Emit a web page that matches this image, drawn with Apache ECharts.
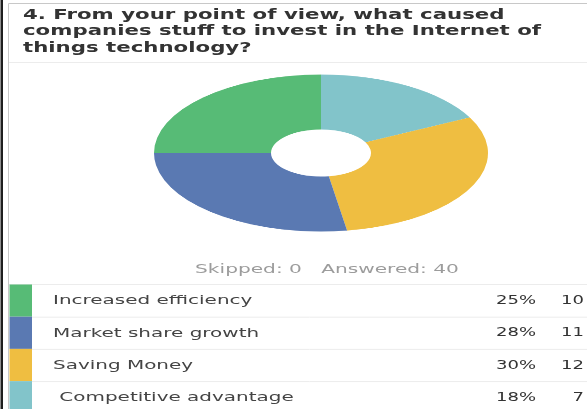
<!DOCTYPE html>
<html>
<head>
<meta charset="utf-8">
<script src="https://cdn.jsdelivr.net/npm/echarts@6/dist/echarts.min.js"></script>
<style>
  html, body { margin: 0; padding: 0; background: #fff; }
  #wrap { position: relative; width: 587px; height: 409px; overflow: hidden; background: #fff; }
  #main { position: absolute; left: 0; top: 0; width: 587px; height: 409px; }
  /* the donut is drawn round and flattened into an ellipse */
  #pie { position: absolute; left: 151px; top: -17px; width: 340px; height: 340px;
         transform: scaleY(0.47); transform-origin: 50% 50%; }
</style>
</head>
<body>
<div id="wrap">
  <div id="main"></div>
  <div id="pie"></div>
</div>
<script>
// Survey question and its answers
const questionLines = [
  '4. From your point of view, what caused',
  'companies stuff to invest in the Internet of',
  'things technology?'
];
const answers = ['Increased efficiency', 'Market share growth', 'Saving Money', ' Competitive advantage'];
const counts = [10, 11, 12, 7];
const percents = ['25%', '28%', '30%', '18%'];
const colors = ['#57bb76', '#5a79b2', '#efbe41', '#82c4ca'];
const skipped = 0;
const answered = 40;

// Donut: slices run clockwise from 12 o'clock, last answer first
const pieOrder = [3, 2, 1, 0];
const pieChart = echarts.init(document.getElementById('pie'), null, { renderer: 'canvas' });
pieChart.setOption({
  animation: false,
  series: [{
    type: 'pie',
    center: ['50%', '50%'],
    radius: [50, 167],
    startAngle: 90,
    clockwise: true,
    label: { show: false },
    labelLine: { show: false },
    emphasis: { disabled: true },
    itemStyle: { borderWidth: 0 },
    data: pieOrder.map(i => ({ name: answers[i], value: counts[i], itemStyle: { color: colors[i] } }))
  }]
});

// Page frame, heading, totals line and answer table (text is set wide)
const rowTop = 284.5, rowH = 32.2;
const g = [];
function txt(x, y, text, font, fill, align, wide) {
  g.push({ type: 'text', x: x, y: y, scaleX: wide || 1.6, style: {
    text: text, font: font, fill: fill, textAlign: align || 'left', verticalAlign: 'middle' } });
}
g.push({ type: 'rect', shape: { x: 0.5, y: 0, width: 2.5, height: 409 }, style: { fill: '#1e1e1e' } });
g.push({ type: 'rect', shape: { x: 8.5, y: 3.5, width: 620, height: 440 }, style: { fill: 'none', stroke: '#c8c8c8', lineWidth: 1 } });
questionLines.forEach((t, i) => {
  txt(23, 15 + i * 16.8, t, 'bold 14.2px "DejaVu Sans"', '#333', 'left', 1.5);
});
g.push({ type: 'line', shape: { x1: 9, y1: 62.5, x2: 587, y2: 62.5 }, style: { stroke: '#ececec', lineWidth: 1 } });
txt(327, 269.5, 'Skipped: ' + skipped + '   Answered: ' + answered, '12.6px "DejaVu Sans"', '#9c9c9c', 'center');
g.push({ type: 'line', shape: { x1: 9, y1: rowTop, x2: 587, y2: rowTop }, style: { stroke: '#ececec', lineWidth: 1 } });
answers.forEach((a, i) => {
  const y = rowTop + i * rowH;
  g.push({ type: 'rect', shape: { x: 9.5, y: y, width: 22.5, height: rowH }, style: { fill: colors[i] } });
  if (i > 0) {
    g.push({ type: 'line', shape: { x1: 32, y1: y + 0.5, x2: 587, y2: y + 0.5 }, style: { stroke: '#ececec', lineWidth: 1 } });
  }
  const cy = y + rowH / 2 + 0.5;
  txt(53, cy, a, '12.8px "DejaVu Sans"', '#444', 'left', 1.56);
  txt(536, cy, percents[i], '12px "DejaVu Sans"', '#333', 'right', 1.5);
  txt(584, cy, String(counts[i]), '12px "DejaVu Sans"', '#333', 'right', 1.5);
});

const main = echarts.init(document.getElementById('main'), null, { renderer: 'canvas' });
main.setOption({ animation: false, graphic: { elements: g } });
</script>
</body>
</html>
